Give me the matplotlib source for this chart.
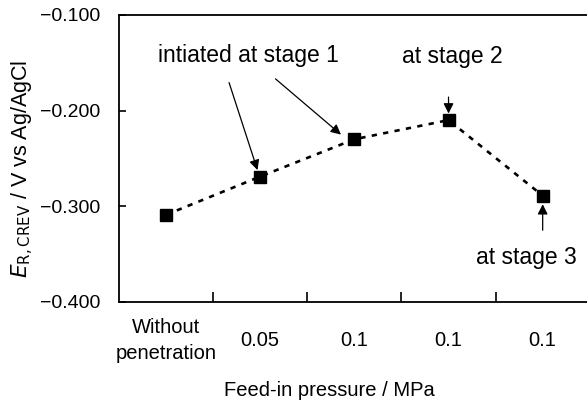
import matplotlib.pyplot as plt
import numpy as np

plt.rcParams['font.family'] = ['Liberation Sans', 'DejaVu Sans']

categories = ["Without\npenetration", "0.05", "0.1", "0.1", "0.1"]
potential = [-0.309, -0.269, -0.230, -0.210, -0.289]
yticks = [-0.100, -0.200, -0.300, -0.400]

x = np.arange(len(categories))

fig = plt.figure(figsize=(5.87, 4.03), dpi=100)
ax = fig.add_axes([0.2027, 0.251, 0.802, 0.712])

ax.plot(x, potential, linestyle=(0, (2.0, 2.4)), linewidth=1.9, color='black',
        marker='s', markersize=8.5, markerfacecolor='black', markeredgecolor='black')

ax.set_xlim(-0.5, 4.5)
ax.set_ylim(-0.400, -0.100)
ax.set_yticks(yticks)
ax.set_yticklabels(["\u22120.100", "\u22120.200", "\u22120.300", "\u22120.400"], fontsize=14)
ax.set_xticks(x[:-1] + 0.5)
ax.set_xticklabels([])
ax.set_xticks(x, minor=True)
ax.set_xticklabels(categories, minor=True, fontsize=14.5, linespacing=1.5)
ax.tick_params(axis='x', which='major', direction='in', length=7, width=1.2)
ax.tick_params(axis='x', which='minor', length=0, pad=28)
plt.setp(ax.get_xticklabels(minor=True), va='center')
ax.tick_params(axis='y', direction='in', length=5, width=1.2, pad=13.5)
for s in ['top', 'left', 'bottom']:
    ax.spines[s].set_linewidth(1.3)
ax.spines['right'].set_visible(False)

ax.set_xlabel("Feed-in pressure / MPa", fontsize=14.5)
ax.xaxis.set_label_coords(0.446, -0.275)
ax.set_ylabel(r"$E_{\mathrm{R,CREV}}$ / V vs Ag/AgCl", fontsize=15.5)
ax.yaxis.set_label_coords(-0.176, 0.465)

# arrows and stage notes
arrow = dict(arrowstyle='-|>', color='black', lw=0.9, mutation_scale=15)
ax.annotate("", xy=(x[1] - 0.02, potential[1] + 0.004), xytext=(0.66, -0.168),
            arrowprops=arrow)
ax.annotate("", xy=(x[2] - 0.12, potential[2] + 0.003), xytext=(1.14, -0.165),
            arrowprops=arrow)
ax.text(0.88, -0.142, "intiated at stage 1", ha='center', va='center', fontsize=16.5)
ax.annotate("", xy=(x[3], potential[3] + 0.004), xytext=(x[3], -0.183),
            arrowprops=arrow)
ax.text(3.04, -0.144, "at stage 2", ha='center', va='center', fontsize=16.5)
ax.annotate("", xy=(x[4], potential[4] - 0.006), xytext=(x[4], -0.328),
            arrowprops=arrow)
ax.text(3.83, -0.354, "at stage 3", ha='center', va='center', fontsize=16.5)

plt.savefig("out.png", dpi=100)
